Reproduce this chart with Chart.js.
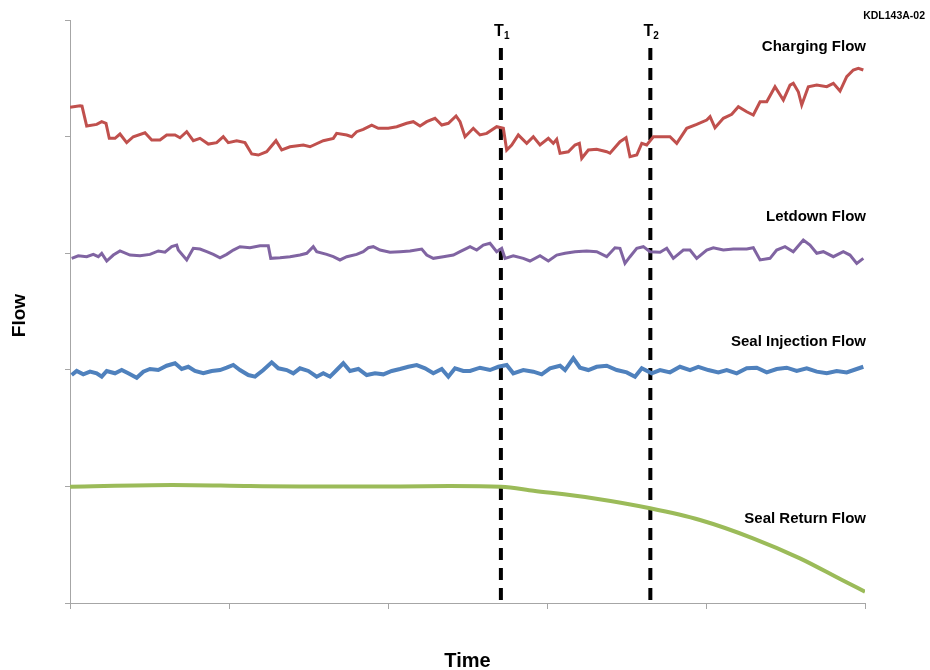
<!DOCTYPE html>
<html>
<head>
<meta charset="utf-8">
<script src="https://cdn.jsdelivr.net/npm/chart.js@4"></script>
<style>
  html, body { margin: 0; padding: 0; background: #ffffff; }
  #wrap { width: 930px; height: 670px; position: relative; }
</style>
</head>
<body>
<div id="wrap"><canvas id="c" width="930" height="670"></canvas></div>
<script>
// ---- Data (time in arbitrary units 0-100, flow in arbitrary units 0-50) ----
const xTicks = [0, 20, 40, 60, 80, 100];
const yTicks = [0, 10, 20, 30, 40, 50];
const markerTimes = [54.2, 73.0];
const markerLabels = ["1", "2"];
const markerTop = 47.6;

const chargingT = [0,1.26,1.51,2.10,3.36,3.99,4.53,4.94,5.66,6.29,7.13,7.96,9.43,10.28,11.32,12.16,13.21,13.84,14.68,15.51,16.35,17.40,18.45,19.28,19.91,20.97,22.01,22.86,23.69,24.74,25.91,26.63,27.67,29.35,30.19,31.86,33.12,33.54,34.81,35.43,36.06,36.89,37.95,38.78,40.04,41.10,42.35,43.18,44.03,44.87,45.91,46.76,47.59,48.56,49.06,49.69,50.73,51.57,52.42,53.67,54.51,54.93,55.56,56.39,57.45,58.28,59.12,60.17,60.79,61.22,61.64,62.68,63.52,64.07,64.37,65.20,66.25,67.51,67.92,69.18,69.94,70.44,71.29,71.92,72.54,73.38,74.63,75.47,76.32,77.57,78.83,80.09,80.51,81.13,82.18,83.24,84.07,85.12,85.95,86.80,87.64,88.68,89.73,90.57,90.98,91.61,92.04,92.87,93.93,95.19,96.02,96.86,97.70,98.53,99.16,99.79];
const chargingV = [42.51,42.65,42.62,40.91,41.05,41.28,41.14,39.85,39.85,40.22,39.48,39.99,40.33,39.71,39.71,40.14,40.14,39.90,40.42,39.65,39.85,39.36,39.48,39.99,39.48,39.65,39.48,38.51,38.42,38.70,39.65,38.85,39.13,39.28,39.13,39.65,39.85,40.28,40.14,39.99,40.42,40.62,40.99,40.71,40.71,40.85,41.14,41.28,40.91,41.28,41.57,40.99,41.14,41.77,41.28,39.99,40.71,40.14,40.28,40.85,40.71,38.85,39.28,40.14,39.42,39.99,39.28,39.85,39.42,39.77,38.57,38.70,39.28,39.42,38.14,38.85,38.91,38.70,38.57,39.56,39.90,38.27,38.42,39.42,39.28,39.99,39.99,39.99,39.42,40.71,41.05,41.42,41.71,40.76,41.57,41.91,42.56,42.13,41.85,42.99,42.99,44.28,43.14,44.42,44.57,43.85,42.71,44.28,44.42,44.28,44.57,43.91,45.14,45.71,45.86,45.71];

const letdownT = [0.21,1.04,2.10,2.93,3.56,3.99,4.62,5.45,6.29,7.55,8.81,10.06,11.11,11.95,12.79,13.42,13.62,14.68,15.51,16.35,17.20,18.03,18.87,19.71,20.54,21.38,22.64,23.90,24.94,25.25,26.42,27.67,28.93,29.78,30.60,31.03,32.29,33.12,33.96,34.81,36.06,36.89,37.52,38.15,39.00,40.25,41.51,42.77,44.24,44.87,45.70,46.96,48.22,49.06,49.90,50.32,51.16,51.99,52.83,53.67,54.30,54.72,55.76,57.02,57.86,59.12,60.17,61.22,62.27,63.52,64.99,66.25,67.51,68.55,69.18,69.81,70.44,71.29,72.12,72.96,74.22,75.06,75.89,77.15,77.99,78.83,80.09,80.92,82.18,83.44,85.12,85.95,86.80,88.05,88.89,89.94,90.98,92.24,93.08,93.93,94.76,96.02,97.27,98.11,98.96,99.79];
const letdownV = [29.56,29.78,29.70,29.90,29.70,29.99,29.33,29.84,30.19,29.84,29.78,29.90,30.19,30.08,30.56,30.70,30.27,29.42,30.42,30.36,30.13,29.90,29.61,29.90,30.27,30.56,30.47,30.64,30.64,29.56,29.61,29.70,29.84,29.99,30.56,30.13,29.90,29.70,29.42,29.70,29.90,30.13,30.47,30.56,30.27,30.08,30.13,30.19,30.36,29.84,29.56,29.70,29.84,30.13,30.42,30.56,30.27,30.70,30.85,30.13,30.42,29.56,29.78,29.56,29.33,29.78,29.33,29.84,29.99,30.13,30.19,30.13,29.70,30.47,30.42,29.13,29.70,30.42,30.56,30.13,30.08,30.42,29.56,30.27,30.27,29.56,30.27,30.47,30.27,30.36,30.36,30.47,29.42,29.56,30.27,30.56,30.13,31.13,30.70,29.99,30.13,29.70,30.13,29.84,29.13,29.56];

const sealInjT = [0.21,0.84,1.67,2.52,3.36,3.99,4.62,5.66,6.50,7.33,8.39,9.22,10.06,11.11,12.16,13.21,14.05,14.88,15.72,16.77,17.82,18.87,19.71,20.54,21.38,22.43,23.27,24.32,25.37,26.20,27.26,28.09,28.93,29.98,31.03,31.86,32.71,33.54,34.38,35.22,36.27,37.32,38.37,39.41,40.47,41.51,42.56,43.61,44.66,45.70,46.76,47.59,48.43,49.47,50.32,51.57,52.83,53.88,54.93,55.76,57.02,58.28,59.33,60.38,61.64,62.27,63.31,64.15,65.20,66.25,67.51,68.77,70.03,71.07,71.92,73.17,74.22,75.47,76.73,77.99,79.03,80.29,81.55,82.61,83.86,85.12,86.38,87.64,88.89,90.15,91.41,92.67,93.93,95.19,96.44,97.70,98.96,99.79];
const sealInjV = [19.55,19.90,19.61,19.84,19.70,19.41,19.90,19.70,19.98,19.70,19.32,19.84,20.07,19.98,20.35,20.56,20.07,20.26,19.90,19.70,19.90,19.98,20.18,20.41,19.98,19.55,19.41,19.98,20.64,20.13,19.98,19.70,20.13,19.90,19.41,19.70,19.41,19.98,20.56,19.90,20.07,19.55,19.70,19.61,19.90,20.07,20.26,20.41,20.13,19.70,20.07,19.41,20.13,19.90,19.90,20.18,19.98,20.26,20.41,19.70,19.98,19.84,19.61,20.13,20.35,19.98,20.99,20.18,19.98,20.26,20.35,19.98,19.78,19.41,20.13,19.70,19.98,19.78,20.26,19.98,20.26,19.98,19.78,19.98,19.70,20.13,20.18,19.78,20.07,20.18,19.90,20.13,19.84,19.70,19.90,19.78,20.07,20.26];

const sealRetT = [0,12.83,22.64,28.93,41.51,47.80,54.22,58.30,65.79,72.96,79.25,85.91,91.82,97.11,100];
const sealRetV = [9.97,10.12,10.03,9.99,9.99,10.03,9.97,9.63,8.98,8.12,7.12,5.55,3.83,1.97,0.97];

const seriesNames = ["Charging Flow", "Letdown Flow", "Seal Injection Flow", "Seal Return Flow"];
const seriesColors = ["#c0504d", "#8064a2", "#4f81bd", "#9bbb59"];
const labelLevels = [47.34, 32.76, 22.04, 6.86];

function pts(t, v) { return t.map((x, i) => ({ x: x, y: v[i] })); }

const datasets = [
  { data: pts(chargingT, chargingV), borderColor: seriesColors[0], borderWidth: 3 },
  { data: pts(letdownT, letdownV), borderColor: seriesColors[1], borderWidth: 3 },
  { data: pts(sealInjT, sealInjV), borderColor: seriesColors[2], borderWidth: 4 },
  { data: pts(sealRetT, sealRetV), borderColor: seriesColors[3], borderWidth: 4, cubicInterpolationMode: 'monotone' }
].map(d => Object.assign({ pointRadius: 0, fill: false, tension: 0 }, d));

markerTimes.forEach(t => {
  datasets.push({
    data: [{ x: t, y: markerTop }, { x: t, y: 0 }],
    borderColor: "#000000", borderWidth: 4, borderDash: [12, 8],
    pointRadius: 0, fill: false, tension: 0
  });
});

const FONT = '"Liberation Sans", Arial, sans-serif';

const textPlugin = {
  id: 'texts',
  afterDraw(chart) {
    const ctx = chart.ctx;
    const xs = chart.scales.x, ys = chart.scales.y;
    const area = chart.chartArea;
    ctx.save();
    ctx.fillStyle = '#000';
    // series labels
    ctx.font = 'bold 15px ' + FONT;
    ctx.textAlign = 'right';
    ctx.textBaseline = 'alphabetic';
    seriesNames.forEach((n, i) => {
      ctx.fillText(n, area.right + 1, ys.getPixelForValue(labelLevels[i]));
    });
    // marker labels
    markerTimes.forEach((t, i) => {
      const px = xs.getPixelForValue(t);
      ctx.font = 'bold 16px ' + FONT;
      ctx.textAlign = 'center';
      ctx.textBaseline = 'alphabetic';
      ctx.fillText('T', px - 2, 36);
      ctx.font = 'bold 10px ' + FONT;
      ctx.textAlign = 'left';
      ctx.fillText(markerLabels[i], px + 3, 39);
    });
    // code
    ctx.font = 'bold 10.5px ' + FONT;
    ctx.textAlign = 'right';
    ctx.textBaseline = 'middle';
    ctx.fillText('KDL143A-02', 925, 16);
    // axis titles
    ctx.font = 'bold 20px ' + FONT;
    ctx.textAlign = 'center';
    ctx.textBaseline = 'alphabetic';
    ctx.fillText('Time', (area.left + area.right) / 2 - 0, 667);
    ctx.font = 'bold 19px ' + FONT;
    ctx.translate(25, (area.top + area.bottom) / 2 + 4);
    ctx.rotate(-Math.PI / 2);
    ctx.fillText('Flow', 0, 0);
    ctx.restore();
  }
};

new Chart(document.getElementById('c'), {
  type: 'line',
  data: { datasets: datasets },
  options: {
    responsive: false,
    animation: false,
    events: [],
    layout: { padding: { left: 0, right: 65, top: 20, bottom: 0 } },
    plugins: { legend: { display: false }, tooltip: { enabled: false }, title: { display: false } },
    scales: {
      x: {
        type: 'linear', min: 0, max: 100,
        afterBuildTicks: s => { s.ticks = xTicks.map(v => ({ value: v })); },
        afterFit: s => { s.height = 67; },
        ticks: { display: false },
        grid: { drawOnChartArea: false, drawTicks: true, tickLength: 6, color: '#a6a6a6', lineWidth: 1 },
        border: { display: true, color: '#a6a6a6', width: 1 }
      },
      y: {
        type: 'linear', min: 0, max: 50,
        afterBuildTicks: s => { s.ticks = yTicks.map(v => ({ value: v })); },
        afterFit: s => { s.width = 70; },
        ticks: { display: false },
        grid: { drawOnChartArea: false, drawTicks: true, tickLength: 5, color: '#a6a6a6', lineWidth: 1 },
        border: { display: true, color: '#a6a6a6', width: 1 }
      }
    }
  },
  plugins: [textPlugin]
});
</script>
</body>
</html>
